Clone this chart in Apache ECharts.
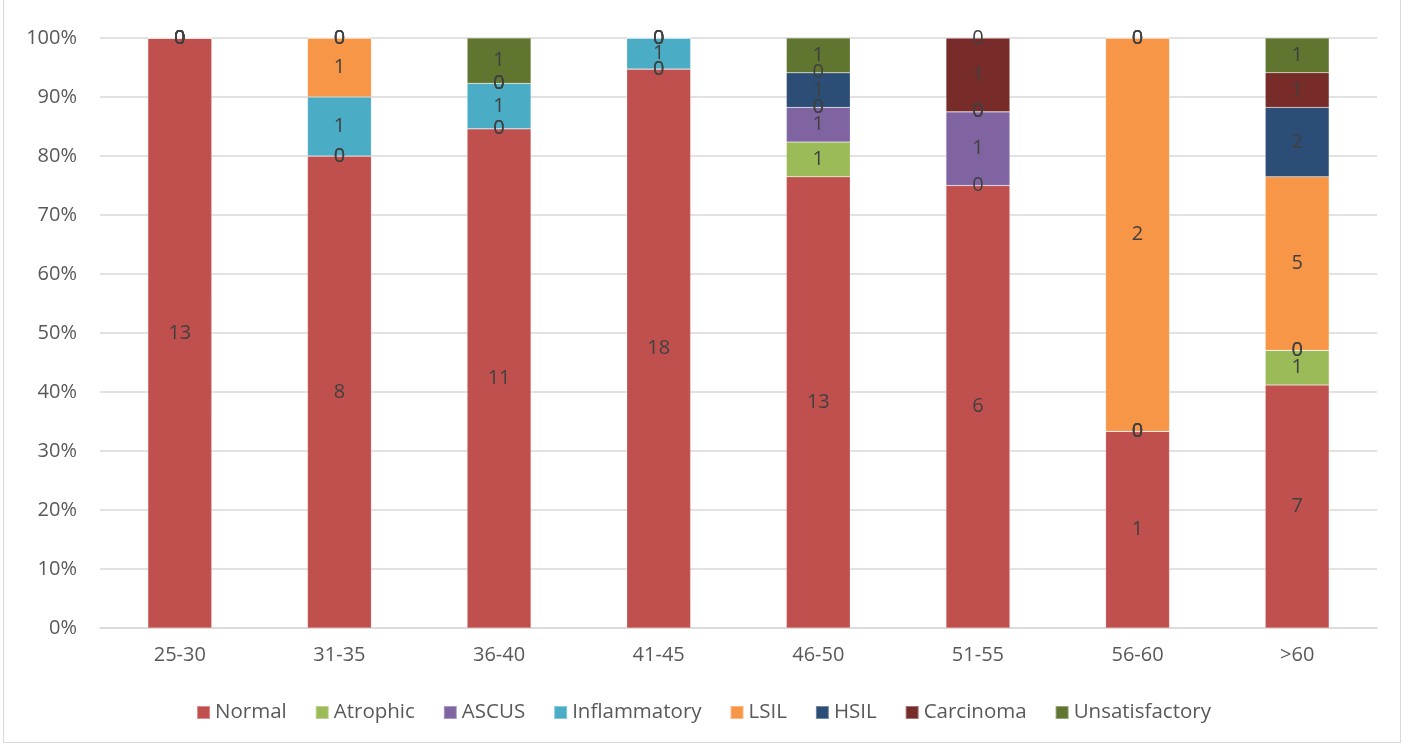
<!DOCTYPE html>
<html>
<head>
<meta charset="utf-8">
<style>
  html, body { margin: 0; padding: 0; background: #fff; }
  #frame { position: absolute; left: 3px; top: -2px; width: 1398px; height: 745px; border: 1px solid #d9d9d9; box-sizing: border-box; }
  #chart { position: absolute; left: 0; top: 0; width: 1407px; height: 746px; }
</style>
<script src="https://cdn.jsdelivr.net/npm/echarts@6/dist/echarts.min.js"></script>
</head>
<body>
<div id="frame"></div>
<div id="chart"></div>
<script>
// Age groups and case counts per cytology result
const categories = ['25-30', '31-35', '36-40', '41-45', '46-50', '51-55', '56-60', '>60'];
const normal         = [13, 8, 11, 18, 13, 6, 1, 7];
const atrophic       = [0, 0, 0, 0, 1, 0, 0, 1];
const ascus          = [0, 0, 0, 0, 1, 1, 0, 0];
const inflammatory   = [0, 1, 1, 1, 0, 0, 0, 0];
const lsil           = [0, 1, 0, 0, 0, 0, 2, 5];
const hsil           = [0, 0, 0, 0, 1, 0, 0, 2];
const carcinoma      = [0, 0, 0, 0, 0, 1, 0, 1];
const unsatisfactory = [0, 0, 1, 0, 1, 0, 0, 1];
const yTicks = [0, 10, 20, 30, 40, 50, 60, 70, 80, 90, 100];

const seriesDefs = [
  ['Normal', normal, '#C0504D'],
  ['Atrophic', atrophic, '#9BBB59'],
  ['ASCUS', ascus, '#8064A2'],
  ['Inflammatory', inflammatory, '#4BACC6'],
  ['LSIL', lsil, '#F79646'],
  ['HSIL', hsil, '#2C4D75'],
  ['Carcinoma', carcinoma, '#772C2A'],
  ['Unsatisfactory', unsatisfactory, '#5F7530']
];

// column totals for the 100% stack
const totals = categories.map((_, i) => seriesDefs.reduce((s, d) => s + d[1][i], 0));

const FONT = '"Open Sans", Lato, sans-serif';

const series = seriesDefs.map(([name, counts, color]) => ({
  name: name,
  type: 'bar',
  stack: 'all',
  barWidth: '40%',
  itemStyle: { color: color, borderColor: 'rgba(255,255,255,0.35)', borderWidth: 0.5 },
  label: {
    show: true,
    position: 'inside',
    color: '#404040',
    fontFamily: FONT,
    fontSize: 20,
    formatter: p => String(counts[p.dataIndex])
  },
  labelLayout: { hideOverlap: false },
  data: counts.map((c, i) => c / totals[i] * 100)
}));

const chart = echarts.init(document.getElementById('chart'), null, { renderer: 'canvas' });
chart.setOption({
  animation: false,
  backgroundColor: 'transparent',
  grid: { left: 100, right: 30, top: 38, bottom: 118, containLabel: false },
  legend: {
    bottom: 18,
    left: 'center',
    itemWidth: 13,
    itemHeight: 13,
    itemGap: 28,
    icon: 'rect',
    textStyle: { color: '#595959', fontFamily: FONT, fontSize: 20.5 },
    data: seriesDefs.map(d => d[0])
  },
  xAxis: {
    type: 'category',
    data: categories,
    axisLine: { lineStyle: { color: '#d9d9d9', width: 1.5 } },
    axisTick: { show: false },
    axisLabel: { color: '#595959', fontFamily: FONT, fontSize: 20, margin: 17 }
  },
  yAxis: {
    type: 'value',
    min: yTicks[0],
    max: yTicks[yTicks.length - 1],
    interval: 10,
    axisLine: { show: false },
    axisTick: { show: false },
    splitLine: { lineStyle: { color: '#d9d9d9', width: 1.5 } },
    axisLabel: { color: '#595959', fontFamily: FONT, fontSize: 20, margin: 23, formatter: v => v + '%' }
  },
  series: series
});
</script>
</body>
</html>
